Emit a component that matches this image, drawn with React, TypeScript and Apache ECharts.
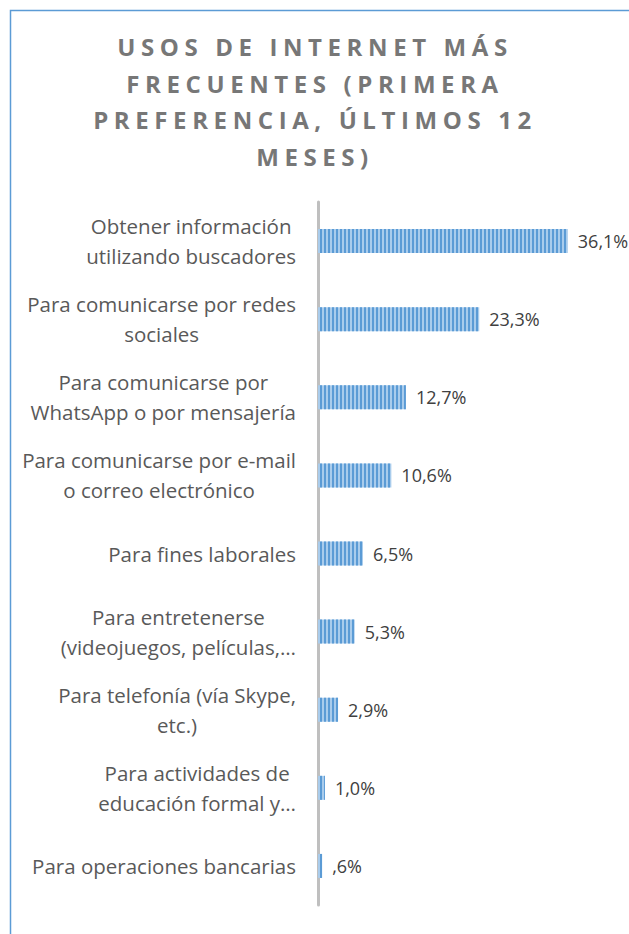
import React, { useEffect, useRef } from "react";
import * as echarts from "echarts";

const titleText = "USOS DE INTERNET MÁS\nFRECUENTES (PRIMERA\nPREFERENCIA, ÚLTIMOS 12\nMESES)";

const categories = [
  "Obtener información\nutilizando buscadores",
  "Para comunicarse por redes\nsociales",
  "Para comunicarse por\nWhatsApp o por mensajería",
  "Para comunicarse por e-mail\no correo electrónico",
  "Para fines laborales",
  "Para entretenerse\n(videojuegos, películas,…",
  "Para telefonía (vía Skype,\netc.)",
  "Para actividades de\neducación formal y…",
  "Para operaciones bancarias",
];

const values = [36.1, 23.3, 12.7, 10.6, 6.5, 5.3, 2.9, 1.0, 0.6];

const fmt = (v: number) => {
  let s = v.toFixed(1).replace(".", ",");
  if (s.startsWith("0")) s = s.slice(1);
  return s + "%";
};

export default function App() {
  const ref = useRef<HTMLDivElement>(null);
  useEffect(() => {
    if (!ref.current) return;
    const chart = echarts.init(ref.current, undefined, { renderer: "svg" });
    const xMax = 40;
    const pxPerUnit = 6.92;
    const gridLeft = 318;
    chart.setOption({
      animation: false,
      aria: { enabled: true, decal: { show: true } },
      title: {
        text: titleText,
        left: 310,
        textAlign: "center",
        top: 23,
        textStyle: {
          fontFamily: "Open Sans",
          fontWeight: "bold",
          fontSize: 24,
          lineHeight: 36.7,
          color: "#777777",
        },
      },
      graphic: [
        {
          type: "rect",
          shape: { x: 10.5, y: 10.5, width: 700, height: 1000 },
          style: { fill: "none", stroke: "#5B9BD5", lineWidth: 1.5 },
          silent: true,
          z: -1,
        },
      ],
      grid: {
        left: gridLeft,
        right: 629 - gridLeft - xMax * pxPerUnit,
        top: 202,
        bottom: 29,
        containLabel: false,
      },
      xAxis: {
        type: "value",
        min: 0,
        max: xMax,
        show: false,
        splitLine: { show: false },
      },
      yAxis: {
        type: "category",
        data: categories,
        inverse: true,
        axisLine: { show: true, lineStyle: { color: "#BFBFBF", width: 3 } },
        axisTick: { show: false },
        axisLabel: {
          interval: 0,
          margin: 22,
          formatter: (v: string) =>
            v
              .split("\n")
              .map((l) => `{c|${l}}`)
              .join("\n"),
          rich: {
            c: {
              align: "center",
              fontFamily: "Open Sans",
              fontSize: 20.5,
              lineHeight: 30,
              color: "#595959",
            },
          },
        },
      },
      series: [
        {
          type: "bar",
          data: values,
          barWidth: 24,
          itemStyle: {
            color: "#A9CCEC",
            decal: {
              symbol: "rect",
              symbolSize: 1,
              color: "#5B9BD5",
              dashArrayX: [1.5, 1.5],
              dashArrayY: [6, 0],
              rotation: 0,
            },
          },
          label: {
            show: true,
            position: "right",
            distance: 10,
            formatter: (p: any) => fmt(p.value),
            fontFamily: "Open Sans",
            fontSize: 18,
            color: "#404040",
          },
        },
      ],
    });
    return () => chart.dispose();
  }, []);
  return (
    <>
      <style>{`#chartbox text[style*="bold"] { letter-spacing: 5.6px; }`}</style>
      <div
        id="chartbox"
        ref={ref}
        style={{ position: "absolute", left: 0, top: 0, width: 629, height: 934, background: "#fff" }}
      />
    </>
  );
}
